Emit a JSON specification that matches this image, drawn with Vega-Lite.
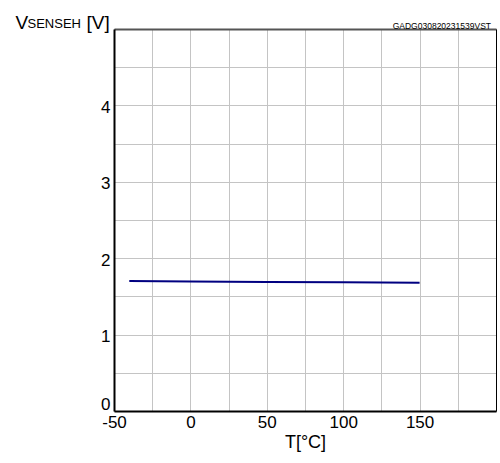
{
  "$schema": "https://vega.github.io/schema/vega-lite/v6.json",
  "width": 382,
  "height": 382,
  "autosize": "none",
  "padding": {"left": 114, "top": 29, "right": 4, "bottom": 52},
  "title": {"text": "GADG030820231539VST", "anchor": "end", "frame": "group", "fontSize": 8.5, "font": "Liberation Sans", "fontWeight": "normal", "color": "#000000", "offset": 2, "dx": -5, "dy": 19},
  "config": {"view": {"stroke": null}, "font": "Liberation Sans"},
  "data": {"values": [
    {"T": -40, "V": 1.70},
    {"T": 0, "V": 1.695},
    {"T": 50, "V": 1.69},
    {"T": 100, "V": 1.685},
    {"T": 150, "V": 1.68}
  ]},
  "layer": [
    {
      "mark": {"type": "line", "color": "#000080", "strokeWidth": 2},
      "encoding": {
        "x": {"field": "T", "type": "quantitative", "scale": {"domain": [-50, 200], "nice": false, "zero": false},
          "axis": {"orient": "bottom", "values": [-50, -25, 0, 25, 50, 75, 100, 125, 150, 175, 200], "labelExpr": "(datum.value % 50 == 0 && datum.value < 200) ? ('' + datum.value) : ''", "grid": true, "gridColor": "#c4c4c4", "gridWidth": 1, "ticks": false, "domainColor": "#000000", "domainWidth": 2, "labelFontSize": 17, "labelColor": "#000000", "labelPadding": 3, "labelFlush": false, "labelOverlap": false, "title": "T[°C]", "titleFontSize": 18, "titleFontWeight": "normal", "titleColor": "#000000", "titlePadding": 3}},
        "y": {"field": "V", "type": "quantitative", "scale": {"domain": [0, 5], "nice": false},
          "axis": {"orient": "left", "values": [0, 0.5, 1, 1.5, 2, 2.5, 3, 3.5, 4, 4.5, 5], "labelExpr": "(datum.value % 1 == 0 && datum.value < 5) ? ('' + datum.value) : ''", "grid": true, "gridColor": "#c4c4c4", "gridWidth": 1, "ticks": false, "domainColor": "#000000", "domainWidth": 2, "labelFontSize": 17, "labelColor": "#000000", "labelPadding": 4, "labelFlush": true, "labelOffset": 2, "labelOverlap": false,
            "title": "V", "titleAngle": 0, "titleAlign": "left", "titleBaseline": "alphabetic", "titleX": -99, "titleY": -1, "titleFontSize": 19, "titleFontWeight": "normal", "titleColor": "#000000"}}
      }
    },
    {
      "mark": {"type": "point", "opacity": 0},
      "encoding": {
        "x": {"field": "T", "type": "quantitative", "scale": {"domain": [-50, 200], "nice": false, "zero": false},
          "axis": {"orient": "top", "labels": false, "ticks": false, "grid": false, "domainColor": "#555555", "domainWidth": 2,
            "title": "SENSEH", "titleAlign": "left", "titleBaseline": "alphabetic", "titleX": -87, "titleY": -2, "titleFontSize": 13, "titleFontWeight": "normal", "titleColor": "#000000"}},
        "y": {"field": "V", "type": "quantitative", "scale": {"domain": [0, 5], "nice": false},
          "axis": {"orient": "right", "labels": false, "ticks": false, "grid": false, "domainColor": "#000000", "domainWidth": 1,
            "title": "[V]", "titleAngle": 0, "titleAlign": "left", "titleBaseline": "alphabetic", "titleX": -410, "titleY": -1, "titleFontSize": 19, "titleFontWeight": "normal", "titleColor": "#000000"}}
      }
    }
  ],
  "resolve": {"axis": {"x": "independent", "y": "independent"}}
}
